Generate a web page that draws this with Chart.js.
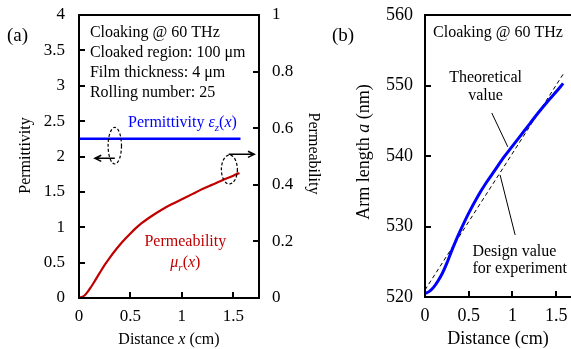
<!DOCTYPE html>
<html>
<head>
<meta charset="utf-8">
<script src="https://cdn.jsdelivr.net/npm/chart.js@4"></script>
<style>
  html, body { margin: 0; padding: 0; background: #fff; overflow: hidden; width: 571px; height: 349px; }
  canvas { position: absolute; top: 0; }
</style>
</head>
<body>
<canvas id="chartA" width="330" height="349" style="left:0"></canvas>
<canvas id="chartB" width="300" height="349" style="left:330px"></canvas>
<script>
// ---- panel (a) data ----
const distA = [0, 0.05, 0.1, 0.15, 0.2, 0.25, 0.3, 0.35, 0.4, 0.45, 0.5, 0.55, 0.6, 0.7, 0.8, 0.9, 1.0, 1.1, 1.2, 1.3, 1.4, 1.5, 1.56];
const permeability = [0, 0.008, 0.03, 0.058, 0.088, 0.117, 0.143, 0.167, 0.189, 0.209, 0.228, 0.246, 0.262, 0.288, 0.311, 0.331, 0.349, 0.367, 0.385, 0.401, 0.417, 0.432, 0.442];
const permittivityX = [0, 1.57];
const permittivity = [2.25, 2.25];
const ticksXA = [0, 0.5, 1, 1.5];
const ticksPermittivity = [0, 0.5, 1, 1.5, 2, 2.5, 3, 3.5, 4];
const ticksPermeability = [0, 0.2, 0.4, 0.6, 0.8, 1];
const infoLines = ["Cloaking @ 60 THz", "Cloaked region: 100 \u03bcm", "Film thickness: 4 \u03bcm", "Rolling number: 25"];

// ---- panel (b) data ----
const distB = [0, 0.05, 0.1, 0.15, 0.2, 0.25, 0.3, 0.35, 0.4, 0.5, 0.6, 0.7, 0.8, 0.9, 1.0, 1.1, 1.2, 1.3, 1.4, 1.5, 1.58];
const armTheory = [520.5, 520.8, 521.4, 522.3, 523.4, 524.8, 526.4, 527.9, 529.3, 531.9, 534.2, 536.2, 538.0, 539.8, 541.4, 543.0, 544.6, 546.2, 547.7, 549.1, 550.3];
const designX = [0, 1.585];
const armDesign = [521.0, 551.7];
const ticksXB = [0, 0.5, 1, 1.5];
const ticksArm = [520, 530, 540, 550, 560];

const FAM = '"Liberation Serif", "Times New Roman", serif';

function pts(xs, ys) { return xs.map((x, i) => ({ x: x, y: ys[i] })); }

// parts: [text, flags]  flags: 'i' italic, 's' subscript
function richText(ctx, parts, x, y, size, align, color) {
  const fontFor = p => (p[1].includes('i') ? 'italic ' : '') + (p[1].includes('s') ? Math.round(size * 0.7) : size) + 'px ' + FAM;
  let w = 0;
  parts.forEach(p => { ctx.font = fontFor(p); w += ctx.measureText(p[0]).width; });
  let cx = align === 'center' ? x - w / 2 : x;
  ctx.fillStyle = color || '#000';
  ctx.textAlign = 'left';
  ctx.textBaseline = 'alphabetic';
  parts.forEach(p => {
    ctx.font = fontFor(p);
    ctx.fillText(p[0], cx, y + (p[1].includes('s') ? size * 0.28 : 0));
    cx += ctx.measureText(p[0]).width;
  });
}

function rotText(ctx, parts, x, y, size, angle) {
  ctx.save();
  ctx.translate(x, y);
  ctx.rotate(angle);
  richText(ctx, parts, 0, 0, size, 'center');
  ctx.restore();
}

function arrow(ctx, x1, y1, x2, y2) {
  const a = Math.atan2(y2 - y1, x2 - x1), h = 7;
  ctx.beginPath();
  ctx.moveTo(x1, y1); ctx.lineTo(x2, y2);
  ctx.moveTo(x2 - h * Math.cos(a - 0.45), y2 - h * Math.sin(a - 0.45));
  ctx.lineTo(x2, y2);
  ctx.lineTo(x2 - h * Math.cos(a + 0.45), y2 - h * Math.sin(a + 0.45));
  ctx.stroke();
}

function dashEllipse(ctx, cx, cy, rx, ry) {
  ctx.save();
  ctx.setLineDash([3, 2]);
  ctx.lineWidth = 1.2;
  ctx.beginPath();
  ctx.ellipse(cx, cy, rx, ry, 0, 0, Math.PI * 2);
  ctx.stroke();
  ctx.restore();
}

function frame(chart) {
  const ctx = chart.ctx, ca = chart.chartArea;
  ctx.save();
  ctx.strokeStyle = '#000';
  ctx.lineWidth = 2;
  ctx.strokeRect(ca.left, ca.top, ca.right - ca.left, ca.bottom - ca.top);
  ctx.restore();
}

// linear axis, inward ticks, fixed box size (big label padding must not push the plot area)
function axisStyle(ticks, size, pad, fixed) {
  return {
    type: 'linear',
    min: ticks[0],
    max: ticks[ticks.length - 1],
    afterBuildTicks: s => { s.ticks = ticks.map(v => ({ value: v })); },
    ticks: { color: '#000', font: { family: FAM, size: size }, padding: pad, callback: v => String(v) },
    grid: { drawOnChartArea: false, drawTicks: true, tickLength: -6, color: '#000', lineWidth: 2 },
    border: { color: '#000', width: 2 },
    afterFit: s => {
      fixed(s);
      s.paddingTop = 0; s.paddingBottom = 0; s.paddingLeft = 0; s.paddingRight = 0;
    }
  };
}

const annotA = {
  id: 'annotA',
  afterDraw(chart) {
    const ctx = chart.ctx, x = chart.scales.x, y = chart.scales.y;
    frame(chart);
    ctx.save();
    ctx.strokeStyle = '#000';
    richText(ctx, [["(a)", '']], 7, 41, 19, 'left');
    infoLines.forEach((t, i) => {
      richText(ctx, [[t, '']], x.getPixelForValue(0.106), y.getPixelForValue(3.689) + i * 20, 16, 'left');
    });
    richText(ctx, [["Permittivity ", ''], ["\u03b5", 'i'], ["z", 'is'], ["(", ''], ["x", 'i'], [")", '']],
      x.getPixelForValue(0.477), y.getPixelForValue(2.421), 16, 'left', '#0000ff');
    richText(ctx, [["Permeability", '']], x.getPixelForValue(1.034), y.getPixelForValue(0.735), 16, 'center', '#c00000');
    richText(ctx, [["\u03bc", 'i'], ["r", 'is'], ["(", ''], ["x", 'i'], [")", '']],
      x.getPixelForValue(1.034), y.getPixelForValue(0.438), 16, 'center', '#c00000');
    // ellipse + arrow markers
    dashEllipse(ctx, x.getPixelForValue(0.348), y.getPixelForValue(2.153), 6.7, 18.3);
    ctx.lineWidth = 1.5;
    arrow(ctx, x.getPixelForValue(0.348), y.getPixelForValue(1.975), x.getPixelForValue(0.155), y.getPixelForValue(1.975));
    dashEllipse(ctx, x.getPixelForValue(1.462), y.getPixelForValue(1.816), 8, 14.5);
    ctx.lineWidth = 1.5;
    arrow(ctx, x.getPixelForValue(1.455), y.getPixelForValue(2.031), x.getPixelForValue(1.704), y.getPixelForValue(2.031));
    // axis titles
    const ca = chart.chartArea, midY = (ca.top + ca.bottom) / 2;
    rotText(ctx, [["Permittivity", '']], 30, midY - 1, 16, -Math.PI / 2);
    rotText(ctx, [["Permeability", '']], 309, midY - 3, 16, Math.PI / 2);
    richText(ctx, [["Distance ", ''], ["x", 'i'], [" (cm)", '']], (ca.left + ca.right) / 2, 344, 16, 'center');
    ctx.restore();
  }
};

const annotB = {
  id: 'annotB',
  afterDraw(chart) {
    const ctx = chart.ctx, x = chart.scales.x, y = chart.scales.y;
    frame(chart);
    ctx.save();
    ctx.strokeStyle = '#000';
    richText(ctx, [["(b)", '']], 2, 41, 19, 'left');
    richText(ctx, [["Cloaking @ 60 THz", '']], x.getPixelForValue(0.092), y.getPixelForValue(556.9), 16, 'left');
    richText(ctx, [["Theoretical", '']], x.getPixelForValue(0.693), y.getPixelForValue(550.5), 16, 'center');
    richText(ctx, [["value", '']], x.getPixelForValue(0.693), y.getPixelForValue(547.9), 16, 'center');
    richText(ctx, [["Design value", '']], x.getPixelForValue(0.542), y.getPixelForValue(525.8), 16, 'left');
    richText(ctx, [["for experiment", '']], x.getPixelForValue(0.542), y.getPixelForValue(523.4), 16, 'left');
    ctx.lineWidth = 1;
    ctx.beginPath();
    ctx.moveTo(x.getPixelForValue(0.764), y.getPixelForValue(546.1));
    ctx.lineTo(x.getPixelForValue(0.947), y.getPixelForValue(541.3));
    ctx.moveTo(x.getPixelForValue(0.859), y.getPixelForValue(537.3));
    ctx.lineTo(x.getPixelForValue(1.031), y.getPixelForValue(528.8));
    ctx.stroke();
    rotText(ctx, [["Arm length ", ''], ["a", 'i'], [" (nm)", '']], 39, 152, 18, -Math.PI / 2);
    richText(ctx, [["Distance (cm)", '']], 168, 344, 18, 'center');
    ctx.restore();
  }
};

Chart.defaults.font.family = FAM;

new Chart(document.getElementById('chartA'), {
  type: 'line',
  data: {
    datasets: [
      { data: pts(permittivityX, permittivity), yAxisID: 'y', borderColor: '#0000ff', borderWidth: 2.5, pointRadius: 0 },
      { data: pts(distA, permeability), yAxisID: 'y2', borderColor: '#c00000', borderWidth: 2.2, pointRadius: 0, cubicInterpolationMode: 'monotone' }
    ]
  },
  options: {
    responsive: false,
    animation: false,
    layout: { padding: { top: 15, left: 0, right: 0, bottom: 0 } },
    plugins: { legend: { display: false }, tooltip: { enabled: false } },
    scales: {
      x: Object.assign(axisStyle(ticksXA, 17, 14, s => { s.height = 51; }), { max: 1.75 }),
      y: Object.assign(axisStyle(ticksPermittivity, 17, 20, s => { s.width = 79; }), { position: 'left' }),
      y2: Object.assign(axisStyle(ticksPermeability, 17, 19, s => { s.width = 71; }), { position: 'right' })
    }
  },
  plugins: [annotA]
});

new Chart(document.getElementById('chartB'), {
  type: 'line',
  data: {
    datasets: [
      { data: pts(distB, armTheory), borderColor: '#0000ff', borderWidth: 3, pointRadius: 0, cubicInterpolationMode: 'monotone' },
      { data: pts(designX, armDesign), borderColor: '#000', borderWidth: 1, borderDash: [4, 3], pointRadius: 0 }
    ]
  },
  options: {
    responsive: false,
    animation: false,
    layout: { padding: { top: 15, left: 0, right: 52, bottom: 0 } },
    plugins: { legend: { display: false }, tooltip: { enabled: false } },
    scales: {
      x: Object.assign(axisStyle(ticksXB, 18, 14, s => { s.height = 52; }), { max: 1.75 }),
      y: Object.assign(axisStyle(ticksArm, 18, 18, s => { s.width = 95; }), { position: 'left' })
    }
  },
  plugins: [annotB]
});
</script>
</body>
</html>
